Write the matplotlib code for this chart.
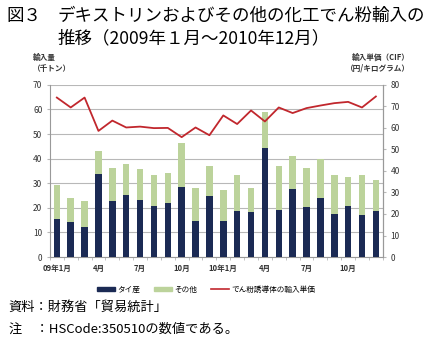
import matplotlib.pyplot as plt
import numpy as np
from matplotlib.patches import Patch
from matplotlib.lines import Line2D

plt.rcParams["font.family"] = ["Noto Sans CJK JP", "DejaVu Sans"]

# データ（2009年1月～2010年12月）
thai = [15.3, 14.1, 12.4, 33.6, 22.9, 25.4, 23.0, 20.7, 21.8, 28.6, 14.7, 25.0,
        14.5, 18.9, 18.5, 44.2, 19.2, 27.7, 20.4, 24.1, 17.5, 20.8, 17.2, 18.7]
total = [29.4, 24.1, 22.6, 43.0, 36.1, 37.9, 35.9, 33.2, 34.2, 46.4, 28.1, 37.2,
         27.3, 33.2, 28.0, 58.9, 37.2, 40.9, 36.1, 39.8, 33.4, 32.5, 33.2, 31.4]
price = [74.1, 69.5, 74.1, 58.6, 63.4, 60.2, 60.6, 59.9, 60.0, 55.7, 60.2, 56.6,
         65.8, 61.8, 68.1, 63.0, 69.5, 66.9, 69.2, 70.4, 71.5, 72.1, 69.5, 74.6]
other = [t - s for t, s in zip(total, thai)]
tick_pos = [0, 3, 6, 9, 12, 15, 18, 21]
tick_labels = ["09年1月", "4月", "7月", "10月", "10年1月", "4月", "7月", "10月"]

navy = "#1b2a54"
green = "#bcd39b"
red = "#c1272d"
grid_c = "#b8b8b8"

fig = plt.figure(figsize=(4.34, 3.45), dpi=100)
ax = fig.add_axes([0.115, 0.255, 0.767, 0.499])
x = np.arange(len(thai))

ax.bar(x, thai, width=0.47, color=navy, zorder=3)
ax.bar(x, other, bottom=thai, width=0.47, color=green, zorder=3)
ax.set_xlim(-0.5, len(thai) - 0.5)
ax.set_ylim(0, 70)
ax.set_yticks(range(0, 71, 10))
ax.yaxis.grid(True, color=grid_c, lw=0.8, zorder=0)
ax.set_xticks(tick_pos)
ax.set_xticklabels(tick_labels, fontsize=5.5, fontweight="bold", color="#333333")
ax.set_xticks(np.arange(-0.5, len(thai), 1), minor=True)
ax.tick_params(axis="x", which="major", length=0, pad=5)
ax.tick_params(axis="x", which="minor", length=2, color=grid_c)
ax.tick_params(axis="y", labelsize=6, length=2, color=grid_c, labelcolor="#333333")
ax.spines["top"].set_visible(False)
for s in ["left", "bottom", "right"]:
    ax.spines[s].set_color("#999999")
    ax.spines[s].set_linewidth(0.8)

ax2 = ax.twinx()
ax2.plot(x, price, color=red, lw=1.3, zorder=4)
ax2.set_ylim(0, 80)
ax2.set_yticks(range(0, 81, 10))
ax2.tick_params(axis="y", labelsize=6, length=2, color=grid_c, labelcolor="#333333")
for s in ["top", "left", "bottom"]:
    ax2.spines[s].set_visible(False)
ax2.spines["right"].set_color("#999999")
ax2.spines["right"].set_linewidth(0.8)

# タイトル
fig.text(0.015, 0.955, "図３", fontsize=12.6, va="center")
fig.text(0.132, 0.955, "デキストリンおよびその他の化工でん粉輸入の", fontsize=12.6, va="center")
fig.text(0.132, 0.888, "推移（2009年１月～2010年12月）", fontsize=12.6, va="center")

# 軸ラベル
fig.text(0.075, 0.818, "輸入量\n（千トン）", fontsize=5.5, fontweight="bold",
         va="center", ha="left", linespacing=1.3, color="#333333")
fig.text(0.945, 0.818, "輸入単価（CIF）\n（円/キログラム）", fontsize=5.5, fontweight="bold",
         va="center", ha="right", linespacing=1.3, color="#333333")

handles = [Patch(color=navy, label="タイ産"),
           Patch(color=green, label="その他"),
           Line2D([], [], color=red, lw=1.2, label="でん粉誘導体の輸入単価")]
fig.legend(handles=handles, loc="center", bbox_to_anchor=(0.475, 0.16), ncol=3,
           frameon=False, fontsize=5.5, handlelength=2.4, handleheight=0.5,
           columnspacing=1.8, handletextpad=0.3)

fig.text(0.02, 0.11, "資料：財務省「貿易統計」", fontsize=9.5, va="center")
fig.text(0.02, 0.045, "注　：HSCode:350510の数値である。", fontsize=9.5, va="center")

fig.savefig("out.png", dpi=100)
